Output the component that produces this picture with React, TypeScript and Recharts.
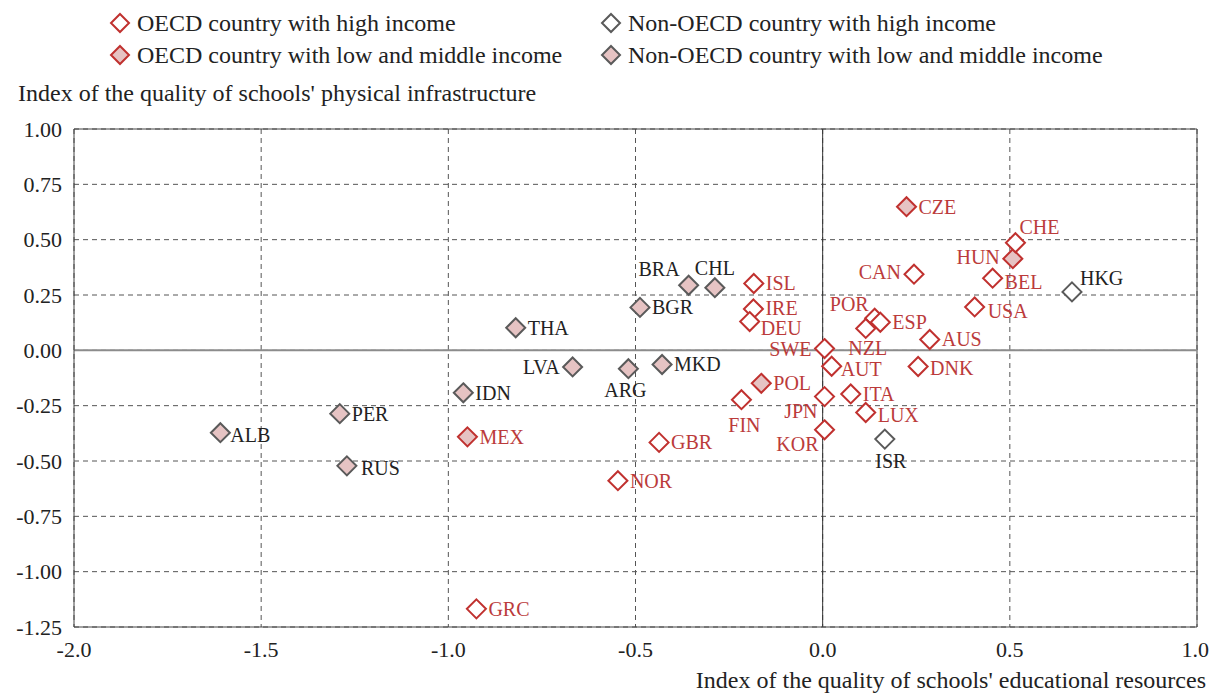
import { ScatterChart, Scatter, XAxis, YAxis, CartesianGrid, ReferenceLine } from "recharts";

// index values: x = educational resources, y = physical infrastructure
const oecdHigh = [
  { code: "CHE", x: 0.515, y: 0.486 },
  { code: "CAN", x: 0.244, y: 0.344 },
  { code: "BEL", x: 0.454, y: 0.326 },
  { code: "USA", x: 0.406, y: 0.196 },
  { code: "ISL", x: -0.184, y: 0.302 },
  { code: "IRE", x: -0.185, y: 0.187 },
  { code: "DEU", x: -0.195, y: 0.13 },
  { code: "POR", x: 0.139, y: 0.145 },
  { code: "ESP", x: 0.154, y: 0.127 },
  { code: "NZL", x: 0.115, y: 0.099 },
  { code: "SWE", x: 0.005, y: 0.008 },
  { code: "AUS", x: 0.286, y: 0.049 },
  { code: "AUT", x: 0.024, y: -0.072 },
  { code: "DNK", x: 0.255, y: -0.073 },
  { code: "FIN", x: -0.217, y: -0.223 },
  { code: "JPN", x: 0.005, y: -0.209 },
  { code: "ITA", x: 0.075, y: -0.197 },
  { code: "LUX", x: 0.115, y: -0.281 },
  { code: "KOR", x: 0.005, y: -0.359 },
  { code: "GBR", x: -0.437, y: -0.416 },
  { code: "NOR", x: -0.547, y: -0.589 },
  { code: "GRC", x: -0.925, y: -1.168 },
];

const oecdLowMid = [
  { code: "CZE", x: 0.224, y: 0.649 },
  { code: "HUN", x: 0.508, y: 0.414 },
  { code: "POL", x: -0.164, y: -0.149 },
  { code: "MEX", x: -0.949, y: -0.391 },
];

const nonOecdHigh = [
  { code: "HKG", x: 0.666, y: 0.264 },
  { code: "ISR", x: 0.166, y: -0.401 },
];

const nonOecdLowMid = [
  { code: "BRA", x: -0.358, y: 0.294 },
  { code: "CHL", x: -0.288, y: 0.283 },
  { code: "BGR", x: -0.488, y: 0.194 },
  { code: "THA", x: -0.82, y: 0.102 },
  { code: "LVA", x: -0.668, y: -0.075 },
  { code: "ARG", x: -0.519, y: -0.083 },
  { code: "MKD", x: -0.429, y: -0.064 },
  { code: "IDN", x: -0.96, y: -0.192 },
  { code: "PER", x: -1.29, y: -0.286 },
  { code: "ALB", x: -1.609, y: -0.372 },
  { code: "RUS", x: -1.271, y: -0.522 },
];

const xTicks = [-2, -1.5, -1, -0.5, 0, 0.5, 1];
const yTicks = [1, 0.75, 0.5, 0.25, 0, -0.25, -0.5, -0.75, -1, -1.25];

const legendLabels = [
  "OECD country with high income",
  "Non-OECD country with high income",
  "OECD country with low and middle income",
  "Non-OECD country with low and middle income",
];

const RED = "#c0312f";
const RED_TEXT = "#bb3b3b";
const GREY = "#5a5a5a";
const PINK = "#e6c3c3";
const FONT = "Liberation Serif, Times New Roman, DejaVu Serif, serif";

// where each country label sits relative to its marker: [dx, dy, anchor]
const labelPos: Record<string, [number, number, string]> = {
  CHE: [4, -16, "start"],
  HUN: [-13, -2, "end"],
  CAN: [-13, -2, "end"],
  BEL: [12, 4, "start"],
  USA: [13, 4, "start"],
  BRA: [-9, -16, "end"],
  CHL: [0, -20, "middle"],
  POR: [-6, -14, "end"],
  NZL: [2, 20, "middle"],
  SWE: [-13, 0, "end"],
  AUT: [9, 3, "start"],
  DNK: [12, 2, "start"],
  ARG: [-3, 21, "middle"],
  FIN: [3, 25, "middle"],
  JPN: [-7, 14, "end"],
  KOR: [-6, 14, "end"],
  ISR: [6, 22, "middle"],
  HKG: [8, -14, "start"],
  LVA: [-13, 0, "end"],
  IRE: [12, -1, "start"],
  DEU: [11, 6, "start"],
  LUX: [12, 2, "start"],
  ALB: [10, 2, "start"],
  RUS: [14, 2, "start"],
};

const diamond = (cx: number, cy: number, r: number) =>
  `${cx},${cy - r} ${cx + r},${cy} ${cx},${cy + r} ${cx - r},${cy}`;

const makeShape = (stroke: string, fill: string, textColor: string) => (props: any) => {
  const { cx, cy, payload } = props;
  const [dx, dy, anchor] = labelPos[payload.code] ?? [12, 0, "start"];
  return (
    <g>
      <polygon points={diamond(cx, cy, 9.5)} fill={fill} stroke={stroke} strokeWidth={2} />
      <text
        x={cx + dx}
        y={cy + dy}
        textAnchor={anchor as any}
        dominantBaseline="central"
        fill={textColor}
        fontSize={20}
        style={{ fontFamily: FONT }}
      >
        {payload.code}
      </text>
    </g>
  );
};

const legendStyles = [
  { stroke: RED, fill: "#fff" },
  { stroke: GREY, fill: "#fff" },
  { stroke: RED, fill: PINK },
  { stroke: GREY, fill: PINK },
];

function LegendItem({ i }: { i: number }) {
  const s = legendStyles[i];
  return (
    <div style={{ display: "flex", alignItems: "center", height: 32 }}>
      <svg width={22} height={22} style={{ marginRight: 6 }}>
        <polygon points={diamond(11, 11, 9)} fill={s.fill} stroke={s.stroke} strokeWidth={2} />
      </svg>
      <span>{legendLabels[i]}</span>
    </div>
  );
}

export default function App() {
  return (
    <div
      style={{
        position: "absolute",
        left: 0,
        top: 0,
        width: 1209,
        height: 693,
        background: "#fff",
        fontFamily: FONT,
        color: "#222",
      }}
    >
      <div style={{ position: "absolute", left: 109, top: 7, fontSize: 24, width: 480 }}>
        <LegendItem i={0} />
        <LegendItem i={2} />
      </div>
      <div style={{ position: "absolute", left: 600, top: 7, fontSize: 24, width: 600 }}>
        <LegendItem i={1} />
        <LegendItem i={3} />
      </div>
      <div style={{ position: "absolute", left: 18, top: 80, fontSize: 24, whiteSpace: "nowrap" }}>
        Index of the quality of schools' physical infrastructure
      </div>
      <div style={{ position: "absolute", right: 3, top: 667, fontSize: 24, whiteSpace: "nowrap" }}>
        Index of the quality of schools' educational resources
      </div>

      <ScatterChart width={1209} height={693} margin={{ top: 129, right: 12, bottom: 0, left: 0 }}>
        <CartesianGrid stroke="#555" strokeDasharray="5 4" />
        <XAxis
          type="number"
          dataKey="x"
          domain={[-2, 1]}
          ticks={xTicks}
          tickFormatter={(v: number) => v.toFixed(1)}
          height={66}
          axisLine={{ stroke: "#444" }}
          tickLine={false}
          tickSize={6}
          tickMargin={8}
          tick={{ fill: "#222", fontSize: 22, style: { fontFamily: FONT } }}
        />
        <YAxis
          type="number"
          dataKey="y"
          domain={[-1.25, 1]}
          ticks={yTicks}
          tickFormatter={(v: number) => v.toFixed(2)}
          width={74}
          axisLine={{ stroke: "#444" }}
          tickLine={false}
          tickSize={6}
          tickMargin={6}
          tick={{ fill: "#222", fontSize: 22, style: { fontFamily: FONT } }}
        />
        <ReferenceLine x={1} stroke="#444" />
        <ReferenceLine y={1} stroke="#444" />
        <ReferenceLine y={0} stroke="#8c8c8c" strokeWidth={2} />
        <ReferenceLine x={0} stroke="#333" strokeWidth={1} />
        <Scatter data={nonOecdLowMid} shape={makeShape(GREY, PINK, "#222")} isAnimationActive={false} />
        <Scatter data={nonOecdHigh} shape={makeShape(GREY, "#fff", "#222")} isAnimationActive={false} />
        <Scatter data={oecdLowMid} shape={makeShape(RED, PINK, RED_TEXT)} isAnimationActive={false} />
        <Scatter data={oecdHigh} shape={makeShape(RED, "#fff", RED_TEXT)} isAnimationActive={false} />
      </ScatterChart>
    </div>
  );
}
